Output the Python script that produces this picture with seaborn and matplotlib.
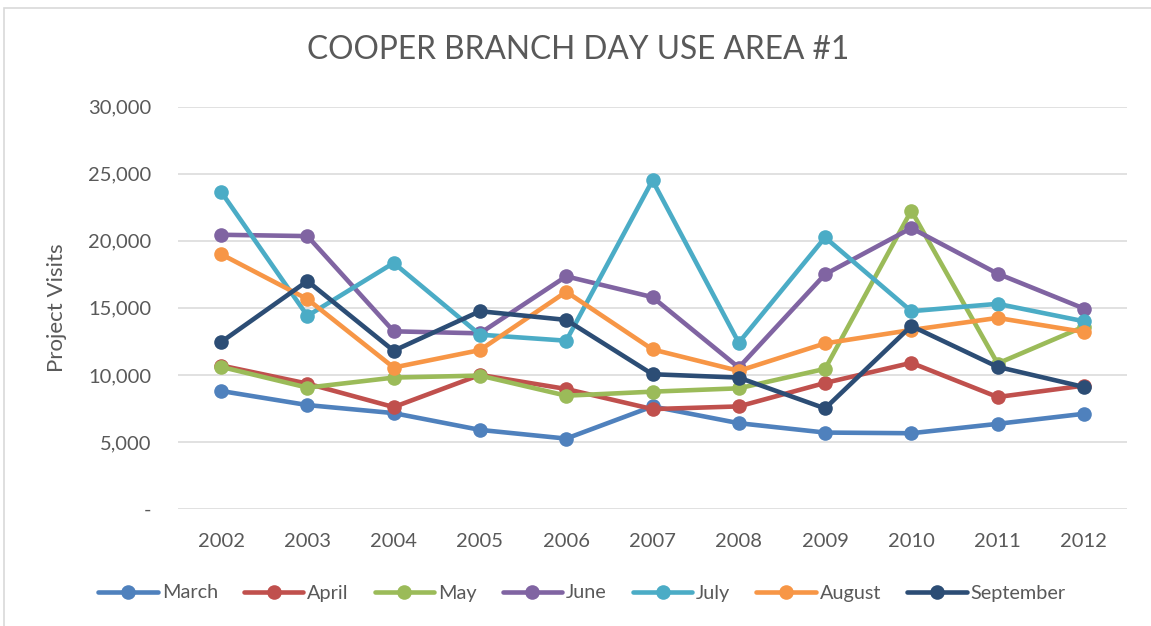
"""Cooper Branch Day Use Area #1: monthly project visits, 2002-2012."""
import matplotlib

matplotlib.use("Agg")
import matplotlib.pyplot as plt
import pandas as pd
import seaborn as sns
from matplotlib.lines import Line2D
from matplotlib.patches import Rectangle
from matplotlib.ticker import FuncFormatter

YEARS = list(range(2002, 2013))
MONTHS = ["March", "April", "May", "June", "July", "August", "September"]

march = [8800, 7750, 7150, 5900, 5250, 7650, 6400, 5700, 5650, 6350, 7100]
april = [10700, 9350, 7600, 10000, 8950, 7450, 7650, 9400, 10900, 8350, 9200]
may = [10600, 9050, 9800, 9950, 8450, 8750, 9000, 10450, 22250, 10850, 13600]
june = [20450, 20350, 13250, 13100, 17350, 15800, 10550, 17500, 20950, 17550, 14950]
july = [23650, 14400, 18350, 13000, 12550, 24500, 12400, 20250, 14750, 15300, 14000]
august = [19000, 15650, 10550, 11850, 16200, 11900, 10300, 12350, 13350, 14250, 13200]
september = [12450, 17000, 11800, 14750, 14100, 10050, 9800, 7500, 13650, 10600, 9100]

COLORS = ["#4F81BD", "#C0504D", "#9BBB59", "#8064A2", "#4BACC6", "#F79646", "#2C4D75"]
TEXT = "#595959"


def long_frame() -> pd.DataFrame:
    series = [march, april, may, june, july, august, september]
    rows = []
    for name, vals in zip(MONTHS, series):
        for yr, v in zip(YEARS, vals):
            rows.append({"year": yr, "month": name, "visits": v})
    return pd.DataFrame(rows)


def main() -> None:
    df = long_frame()
    sns.set_style("white")
    plt.rcParams["font.family"] = ["Lato", "DejaVu Sans"]

    fig = plt.figure(figsize=(11.51, 6.26), dpi=100)
    ax = fig.add_axes([178 / 1151, 1 - 509 / 626, (1127 - 178) / 1151, (509 - 106.7) / 626])

    palette = dict(zip(MONTHS, COLORS))
    sns.lineplot(
        data=df,
        x="year",
        y="visits",
        hue="month",
        hue_order=MONTHS,
        palette=palette,
        marker="o",
        markersize=10.5,
        markeredgewidth=0,
        linewidth=3.3,
        legend=False,
        ax=ax,
    )

    ax.set_xlim(2001.5, 2012.5)
    ax.set_ylim(0, 30000)
    ax.set_xticks(YEARS)
    ax.set_xticklabels([str(y) for y in YEARS])
    ax.set_yticks(range(0, 30001, 5000))
    ax.yaxis.set_major_formatter(FuncFormatter(lambda v, _: "-" if v == 0 else f"{int(v):,}"))
    ax.grid(axis="y", color="#D9D9D9", lw=1.1)
    ax.grid(axis="x", visible=False)
    ax.set_axisbelow(True)
    for s in ax.spines.values():
        s.set_visible(False)
    ax.tick_params(axis="both", length=0, labelsize=14.5, colors=TEXT)
    ax.tick_params(axis="y", pad=19)
    ax.tick_params(axis="x", pad=17)
    ax.set_xlabel("")
    ax.set_ylabel("")

    fig.text(57 / 1151, 1 - 308 / 626, "Project Visits", rotation=90, ha="center",
             va="center", fontsize=16, color=TEXT)
    fig.text(578 / 1151, 1 - 50 / 626, "COOPER BRANCH DAY USE AREA #1", ha="center",
             va="center", fontsize=22.8, color=TEXT)

    handles = [
        Line2D([], [], color=c, lw=3.3, marker="o", markersize=10.5, markeredgewidth=0)
        for c in COLORS
    ]
    fig.legend(handles, MONTHS, loc="center", bbox_to_anchor=(582 / 1151, 1 - 593 / 626),
               ncol=7, frameon=False, fontsize=14.3, handlelength=3.0, handletextpad=0.2,
               columnspacing=1.3, labelcolor=TEXT)

    fig.patches.append(Rectangle((4 / 1151, -0.1), 1.2, 1.1 - 8 / 626, transform=fig.transFigure,
                                 fill=False, edgecolor="#D9D9D9", lw=1.2))

    fig.savefig("out.png", dpi=100)
    plt.close(fig)


if __name__ == "__main__":
    main()
